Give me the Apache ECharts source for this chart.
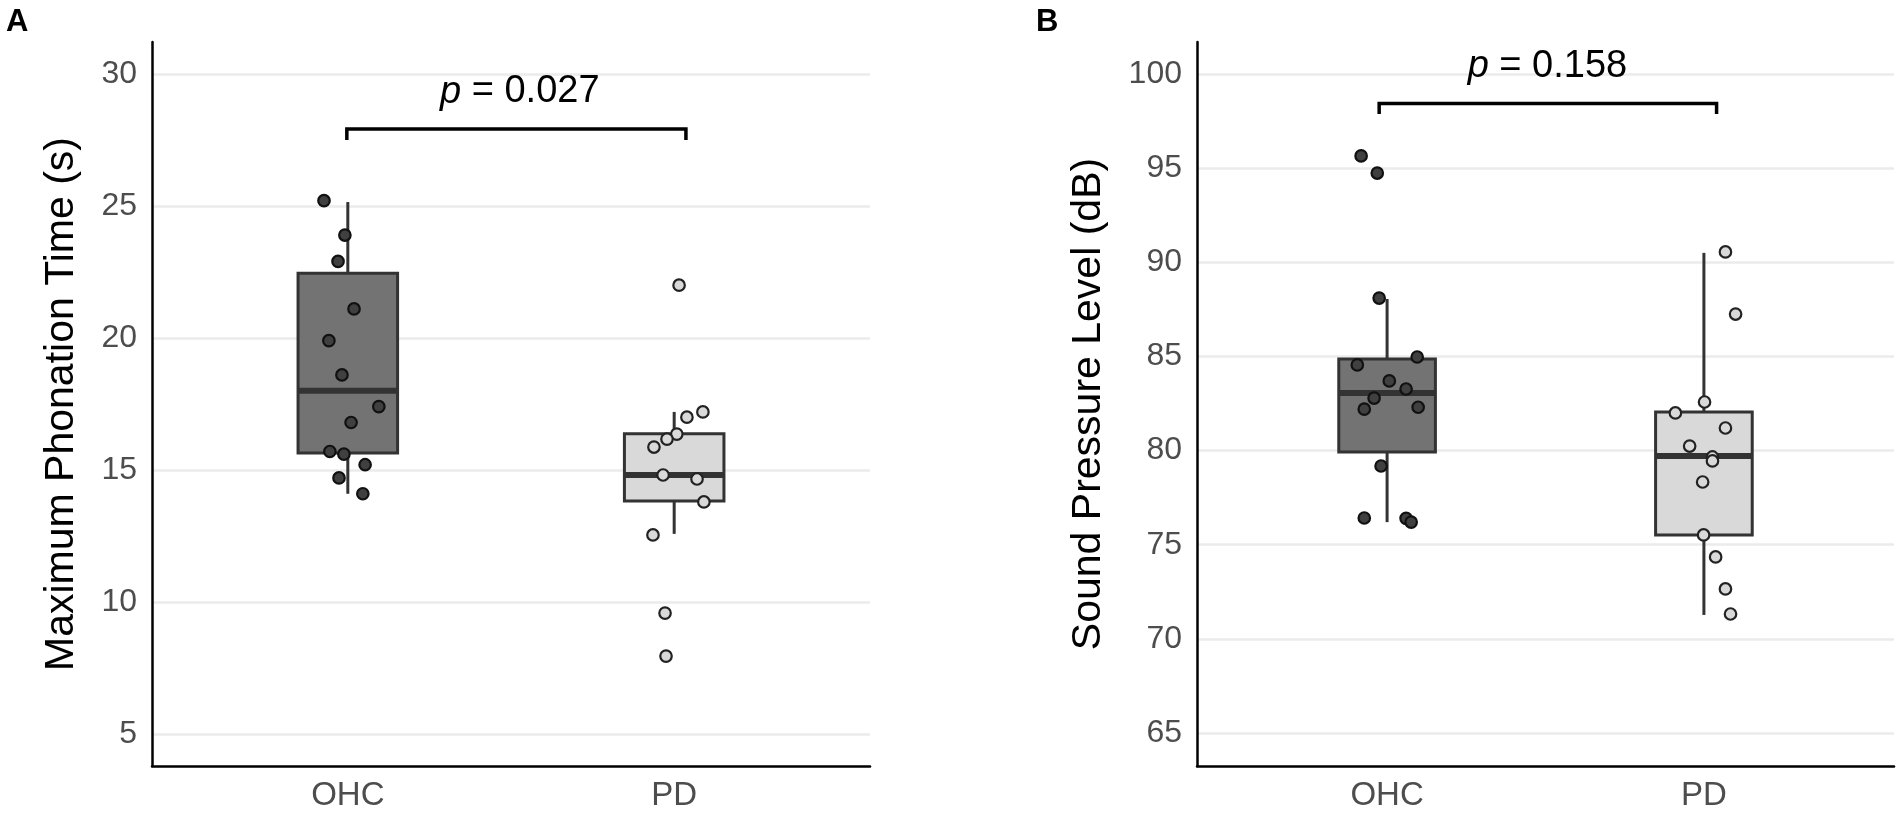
<!DOCTYPE html>
<html><head><meta charset="utf-8">
<script src="https://cdn.jsdelivr.net/npm/echarts@6/dist/echarts.min.js"></script>
<style>html,body{margin:0;padding:0;background:#fff}#c{width:1902px;height:813px}</style>
</head><body><div id="c"></div>
<script>
// ---------- data ----------
const categories = ['OHC', 'PD'];
const yTicksA = [5, 10, 15, 20, 25, 30];
const yTicksB = [65, 70, 75, 80, 85, 90, 95, 100];

// box stats: [group position, whisker low, Q1, median, Q3, whisker high]
const boxA_OHC = [1, 14.1, 15.64, 18.0, 22.45, 25.15];
const boxA_PD  = [2, 12.58, 13.83, 14.81, 16.37, 17.2];
const boxB_OHC = [1, 76.2, 79.93, 83.06, 84.87, 88.05];
const boxB_PD  = [2, 71.27, 75.52, 79.71, 82.05, 90.5];

// jittered points (x position on group axis, value)
const jitA_OHC = [0.927, 0.991, 0.970, 1.019, 0.942, 0.982, 1.095, 1.010, 0.945, 0.988, 1.053, 0.973, 1.046];
const valA_OHC = [25.2, 23.9, 22.9, 21.1, 19.9, 18.6, 17.4, 16.8, 15.7, 15.6, 15.2, 14.7, 14.1];
const jitA_PD  = [2.015, 2.088, 2.039, 2.008, 1.978, 1.938, 1.966, 2.070, 2.091, 1.935, 1.972, 1.975];
const valA_PD  = [22.0, 17.2, 17.0, 16.36, 16.17, 15.87, 14.81, 14.66, 13.79, 12.54, 9.58, 7.95];

const jitB_OHC = [0.918, 0.969, 0.975, 1.095, 0.906, 1.007, 1.060, 0.959, 0.928, 1.098, 0.981, 0.928, 1.060, 1.076];
const valB_OHC = [95.65, 94.74, 88.1, 84.97, 84.55, 83.7, 83.27, 82.79, 82.2, 82.3, 79.18, 76.42, 76.4, 76.2];
const jitB_PD  = [2.068, 2.100, 2.002, 1.910, 2.068, 1.955, 2.027, 2.027, 1.996, 1.999, 2.037, 2.068, 2.084];
const valB_PD  = [90.55, 87.25, 82.58, 82.0, 81.2, 80.24, 79.66, 79.45, 78.33, 75.52, 74.35, 72.65, 71.32];

// significance brackets: x ends, y (tick bottom, bar)
const bracketA_x = [0.997, 2.036], bracketA_y = [27.5, 27.92];
const bracketB_x = [0.975, 2.04],  bracketB_y = [97.88, 98.43];
const pLabelA = ['p', ' = 0.027'], pLabelA_pos = [1.527, 29.32];
const pLabelB = ['p', ' = 0.158'], pLabelB_pos = [1.506, 100.38];

const titleA = 'Maximum Phonation Time (s)';
const titleB = 'Sound Pressure Level (dB)';

// ---------- chart ----------
const FONT = '"Liberation Sans", Arial, Helvetica, sans-serif';
const BOX_W = 0.305;
const zip = (xs, ys) => xs.map((x, i) => [x, ys[i]]);

function renderBox(params, api) {
  const x = api.value(0), lo = api.value(1), q1 = api.value(2), med = api.value(3), q3 = api.value(4), hi = api.value(5);
  const tl = api.coord([x - BOX_W / 2, q3]);
  const br = api.coord([x + BOX_W / 2, q1]);
  const c = api.coord([x, med]);
  const pHi = api.coord([x, hi]);
  const pLo = api.coord([x, lo]);
  const fill = api.visual('color');
  const ls = '#333333';
  return { type: 'group', children: [
    { type: 'line', shape: { x1: c[0], y1: pHi[1], x2: c[0], y2: tl[1] }, style: { stroke: ls, lineWidth: 3 } },
    { type: 'line', shape: { x1: c[0], y1: br[1], x2: c[0], y2: pLo[1] }, style: { stroke: ls, lineWidth: 3 } },
    { type: 'rect', shape: { x: tl[0], y: tl[1], width: br[0] - tl[0], height: br[1] - tl[1] }, style: { fill: fill, stroke: ls, lineWidth: 3 } },
    { type: 'line', shape: { x1: tl[0], y1: c[1], x2: br[0], y2: c[1] }, style: { stroke: ls, lineWidth: 6 } }
  ]};
}

function renderText(parts) {
  return function (params, api) {
    const p = api.coord([api.value(0), api.value(1)]);
    return { type: 'text', x: p[0], y: p[1], style: {
      text: '{i|' + parts[0] + '}' + parts[1],
      rich: { i: { fontStyle: 'italic', fontSize: 38, fontFamily: FONT, fill: '#000' } },
      fontSize: 38, fontFamily: FONT, fill: '#000', align: 'center', verticalAlign: 'middle'
    }};
  };
}

function xAxisCfg(gi) {
  return {
    type: 'value', gridIndex: gi, min: 0.4, max: 2.6,
    axisLine: { show: true, lineStyle: { color: '#000', width: 2.5 } },
    axisTick: { show: false, customValues: [1, 2] },
    splitLine: { show: false },
    axisLabel: { customValues: [1, 2], margin: 13, fontSize: 33, fontFamily: FONT, color: '#4d4d4d',
      formatter: v => categories[Math.round(v) - 1] || '' }
  };
}
function yAxisCfg(gi, min, max, ticks, name, gap) {
  return {
    type: 'value', gridIndex: gi, min: min, max: max,
    name: name, nameLocation: 'middle', nameRotate: 90, nameGap: gap,
    nameTextStyle: { fontSize: 41, fontFamily: FONT, color: '#000' },
    axisLine: { show: true, lineStyle: { color: '#000', width: 2.5 } },
    axisTick: { show: false, customValues: ticks },
    splitLine: { show: true, lineStyle: { color: '#ebebeb', width: 2.5 } },
    axisLabel: { customValues: ticks, margin: 15, fontSize: 32, fontFamily: FONT, color: '#4d4d4d' }
  };
}

function boxSeries(gi, stats, color) {
  return { type: 'custom', xAxisIndex: gi, yAxisIndex: gi, renderItem: renderBox,
    encode: { x: 0, y: [1, 2, 3, 4, 5] }, itemStyle: { color: color }, data: [stats], z: 2, silent: true };
}
function pointSeries(gi, xs, ys, fill, border) {
  return { type: 'scatter', xAxisIndex: gi, yAxisIndex: gi, data: zip(xs, ys), symbol: 'circle', symbolSize: 11.5,
    itemStyle: { color: fill, borderColor: border, borderWidth: 2.2, opacity: 1 }, z: 3, silent: true };
}
function bracketSeries(gi, bx, by) {
  return { type: 'line', xAxisIndex: gi, yAxisIndex: gi, showSymbol: false, symbol: 'none',
    data: [[bx[0], by[0]], [bx[0], by[1]], [bx[1], by[1]], [bx[1], by[0]]],
    lineStyle: { color: '#000', width: 3.5, cap: 'butt', join: 'miter' }, z: 4, silent: true };
}
function labelSeries(gi, pos, parts) {
  return { type: 'custom', xAxisIndex: gi, yAxisIndex: gi, renderItem: renderText(parts),
    encode: { x: 0, y: 1 }, data: [pos], z: 5, silent: true };
}

const chart = echarts.init(document.getElementById('c'), null, { renderer: 'canvas' });
chart.setOption({
  animation: false,
  backgroundColor: '#fff',
  title: [
    { text: 'A', left: 6, top: 7, padding: 0, textStyle: { fontSize: 31, fontWeight: 'bold', color: '#000', fontFamily: FONT } },
    { text: 'B', left: 1036, top: 7, padding: 0, textStyle: { fontSize: 31, fontWeight: 'bold', color: '#000', fontFamily: FONT } }
  ],
  grid: [
    { left: 152, right: 1902 - 870, top: 42, bottom: 47, containLabel: false },
    { left: 1197, right: 8, top: 42, bottom: 47, containLabel: false }
  ],
  xAxis: [xAxisCfg(0), xAxisCfg(1)],
  yAxis: [
    yAxisCfg(0, 3.788, 31.212, yTicksA, titleA, 70),
    yAxisCfg(1, 63.247, 101.70, yTicksB, titleB, 88)
  ],
  series: [
    boxSeries(0, boxA_OHC, '#737373'),
    boxSeries(0, boxA_PD, '#d9d9d9'),
    pointSeries(0, jitA_OHC, valA_OHC, '#404040', '#111'),
    pointSeries(0, jitA_PD, valA_PD, '#d9d9d9', '#222'),
    bracketSeries(0, bracketA_x, bracketA_y),
    labelSeries(0, pLabelA_pos, pLabelA),
    boxSeries(1, boxB_OHC, '#737373'),
    boxSeries(1, boxB_PD, '#d9d9d9'),
    pointSeries(1, jitB_OHC, valB_OHC, '#404040', '#111'),
    pointSeries(1, jitB_PD, valB_PD, '#d9d9d9', '#222'),
    bracketSeries(1, bracketB_x, bracketB_y),
    labelSeries(1, pLabelB_pos, pLabelB)
  ]
});
</script></body></html>
